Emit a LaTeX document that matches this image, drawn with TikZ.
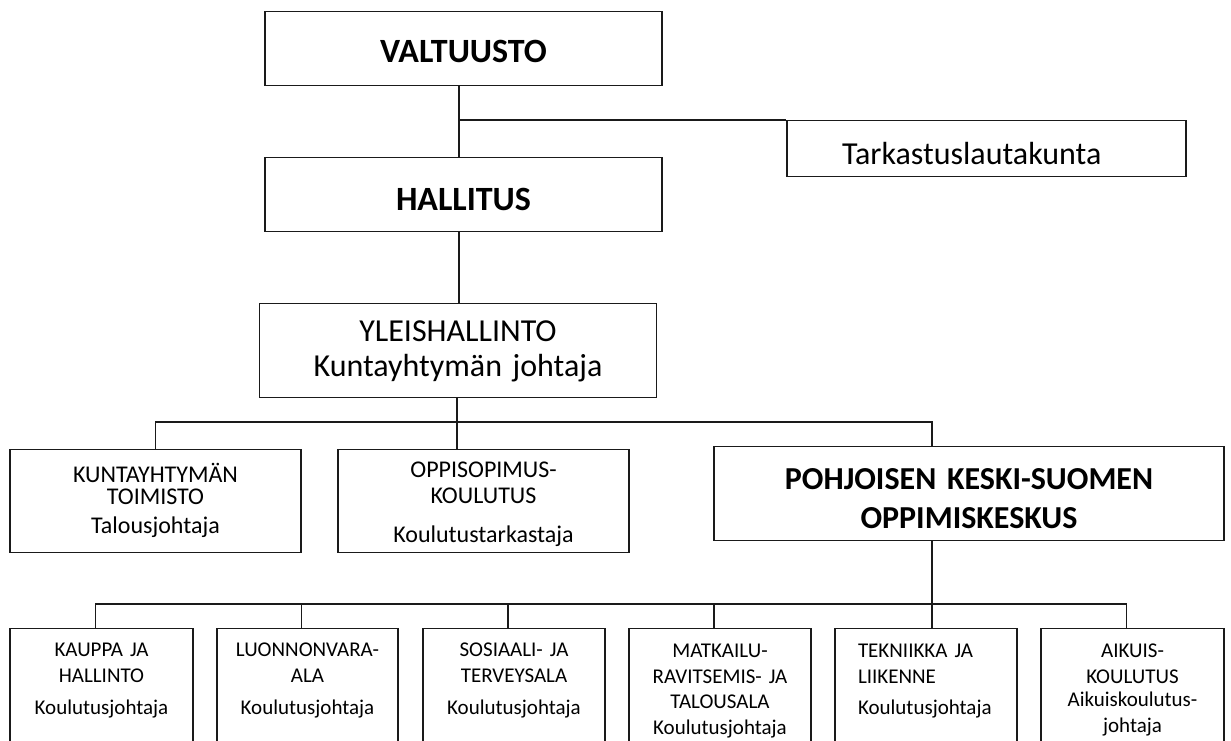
\documentclass[tikz,border=0pt]{standalone}
\usepackage{fontspec}
\setmainfont{Carlito}
\usepackage{xcolor}
\definecolor{kaavioViiva}{HTML}{1A1A1A}
\definecolor{kaavioTeksti}{HTML}{000000}
\usepackage{tikz}
\usetikzlibrary{positioning, calc}
\newcommand{\EiTavutusta}{\hyphenpenalty=10000\exhyphenpenalty=10000\relax}
\tikzset{
  %% ── Boxes ────────────────────────────────────────────────────────────
  %% Every box hangs from its top edge: text height is the drop from the
  %% top edge to the first baseline, text depth the rest down to the
  %% bottom edge, so the boxes line up row by row whatever they hold.
  laatikko/.style      = {draw=kaavioViiva, line width=1.3pt, text=kaavioTeksti,
                          anchor=north, inner xsep=0pt, inner ysep=0pt,
                          align=center, execute at begin node=\EiTavutusta},
  laatikkoIso/.style   = {laatikko, font=\fontsize{32}{35}\selectfont},
  laatikkoVahva/.style = {laatikko, font=\fontsize{32}{39}\selectfont\bfseries},
  laatikkoYlin/.style  = {laatikko, font=\fontsize{34}{39}\selectfont\bfseries,
                          text width=397pt},
  laatikkoKeski/.style = {laatikko, font=\fontsize{24}{26}\selectfont,
                          text width=291pt, text depth=70pt},
  %% The bottom row runs off the page, as the units do in the original.
  laatikkoAla/.style   = {laatikko, font=\fontsize{21}{25.5}\selectfont,
                          text height=28pt, text depth=132pt},
  %%
  %% ── Lines ────────────────────────────────────────────────────────────
  %% Plain organisation lines, no heads: the hierarchy reads top down.
  yhteys/.style        = {draw=kaavioViiva, line width=1.3pt},
}

\begin{document}
\begin{tikzpicture}[x=1pt, y=-1pt]
\clip (0,0) rectangle (1231,740);

\node[laatikkoYlin, text height=51pt, text depth=23pt]
     (valtuusto) at (463.5,11) {VALTUUSTO};
\node[laatikkoYlin, text height=53pt, text depth=21pt]
     (hallitus) at (463.5,157) {HALLITUS};
\node[laatikkoIso, align=left, inner xsep=55pt, text width=289pt, text height=44pt,
      text depth=12pt] (tarkastus) at (986.5,120) {Tarkastuslautakunta};
\node[laatikkoIso, text width=397pt, text height=38pt, text depth=56pt]
     (yleis) at (458,303) {YLEISHALLINTO\\Kuntayhtymän johtaja};

\node[laatikkoKeski, text height=33pt] (kuntayhtyman) at (155.5,449)
     {KUNTAYHTYMÄN\\[-4pt]TOIMISTO\\[3pt]Talousjohtaja};
\node[laatikkoKeski, text height=28pt, text depth=75pt] (oppisopimus) at (483.5,449)
     {OPPISOPIMUS-\\KOULUTUS\\[13pt]Koulutustarkastaja};
\node[laatikkoVahva, text width=510pt, text height=43pt, text depth=51pt]
     (pohjoisen) at (969,446) {POHJOISEN KESKI-SUOMEN\\OPPIMISKESKUS};

\node[laatikkoAla, text width=183pt] (kauppa) at (101.5,628)
     {KAUPPA JA\\HALLINTO\\[7pt]Koulutusjohtaja};
\node[laatikkoAla, text width=181pt] (luonnon) at (307.5,628)
     {LUONNONVARA-\\ALA\\[7pt]Koulutusjohtaja};
\node[laatikkoAla, text width=182pt] (sosiaali) at (514,628)
     {SOSIAALI- JA\\TERVEYSALA\\[7pt]Koulutusjohtaja};
\node[laatikkoAla, text width=182pt, text height=29pt] (matkailu) at (720,628)
     {MATKAILU-\\RAVITSEMIS- JA\\TALOUSALA\\Koulutusjohtaja};
\node[laatikkoAla, align=left, inner xsep=23pt, text width=136pt, text height=29pt]
     (tekniikka) at (926,628) {TEKNIIKKA JA\\LIIKENNE\\[6pt]Koulutusjohtaja};
\node[laatikkoAla, text width=183pt, text height=29pt] (aikuis) at (1132.5,628)
     {AIKUIS-\\KOULUTUS\\[-2pt]Aikuiskoulutus-\\johtaja};

\coordinate (runko) at (459,120);
\coordinate (vayla1) at (457,422);
\coordinate (vayla2) at (932,604);

\draw[yhteys] (valtuusto.south -| runko) -- (hallitus.north -| runko);
\draw[yhteys] (runko) -- (tarkastus.north west);
\draw[yhteys] (hallitus.south -| runko) -- (yleis.north -| runko);
\draw[yhteys] (yleis.south -| vayla1) -- (oppisopimus.north -| vayla1);
\draw[yhteys] (kuntayhtyman.north) |- (vayla1) -| (pohjoisen.north -| vayla2);

\draw[yhteys] (pohjoisen.south -| vayla2) -- (tekniikka.north -| vayla2);
\draw[yhteys] ($(kauppa.north)+(-6,0)$) |- (vayla2) -| ($(aikuis.north)+(-6,0)$);
\draw[yhteys] ($(luonnon.north)+(-6,0)$) -- ($(luonnon.north |- vayla2)+(-6,0)$);
\draw[yhteys] ($(sosiaali.north)+(-6,0)$) -- ($(sosiaali.north |- vayla2)+(-6,0)$);
\draw[yhteys] ($(matkailu.north)+(-6,0)$) -- ($(matkailu.north |- vayla2)+(-6,0)$);

\end{tikzpicture}
\end{document}
